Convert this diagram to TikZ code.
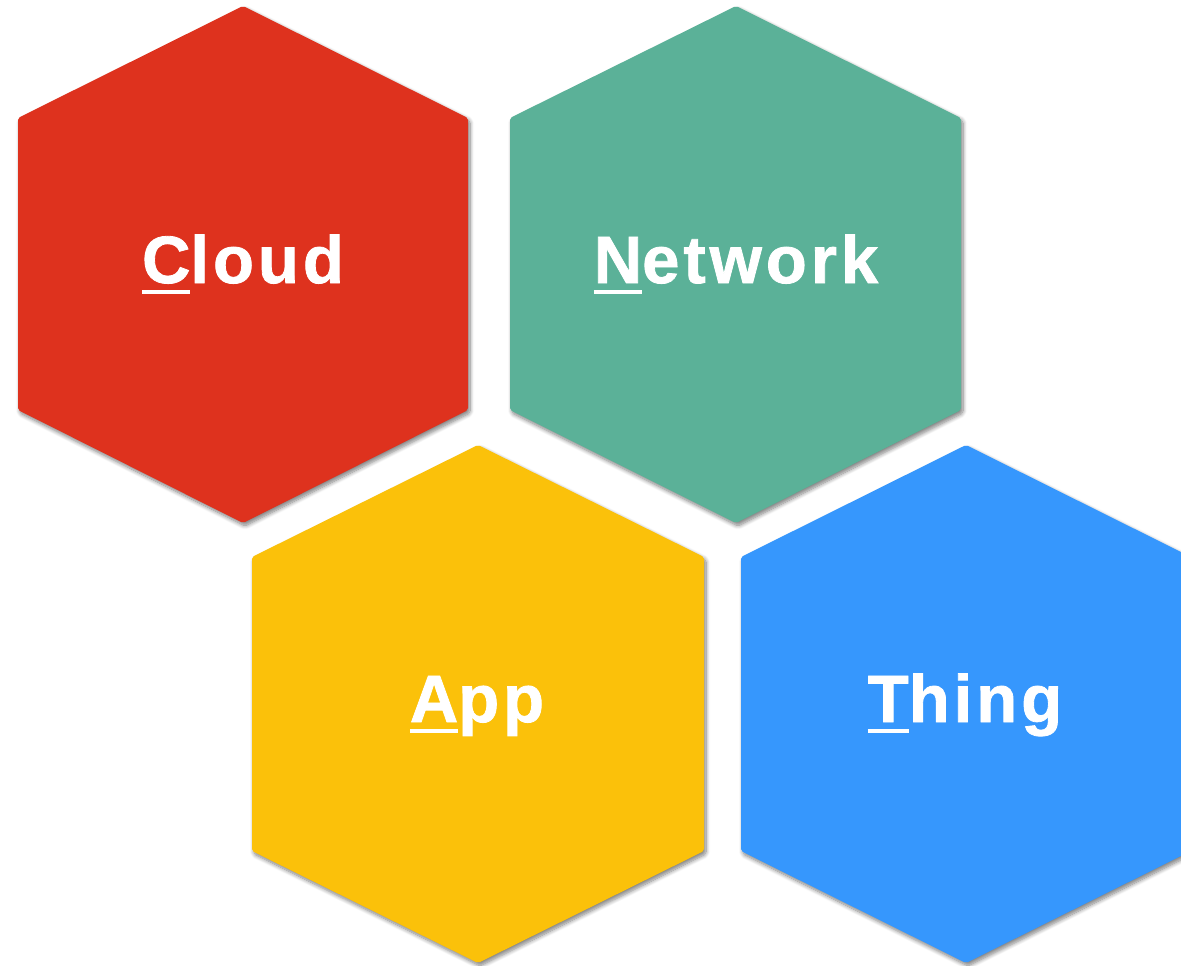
\documentclass[tikz,border=0pt]{standalone}
\usepackage{fontspec}
\newfontfamily\hexfont[LetterSpace=6,FakeBold=1.2]{Liberation Sans}
\usetikzlibrary{shadows.blur}
\definecolor{hexred}{RGB}{222,50,30}
\definecolor{hexgreen}{RGB}{91,177,152}
\definecolor{hexyellow}{RGB}{251,193,10}
\definecolor{hexblue}{RGB}{54,151,253}
\newcommand{\firstul}[1]{\setbox0\hbox{#1}\rlap{\rule[-11pt]{\wd0}{4pt}}\box0}
\tikzset{
  hex/.style={rounded corners=2pt, blur shadow={shadow xshift=2pt, shadow yshift=-3pt, shadow blur steps=8, shadow blur radius=4pt, shadow blur extra rounding=1pt, shadow opacity=50}},
  hexlabel/.style={anchor=base, text=white, font=\hexfont\bfseries\fontsize{67}{80}\selectfont, inner sep=0pt}
}
\begin{document}
\begin{tikzpicture}[x=1pt,y=-1pt]
\useasboundingbox (0,0) rectangle (1181,966);
\begin{scope}
\clip (0,0) rectangle (1181,966);
\fill[hex, hexred]    (243,6) -- (468,118) -- (468,410) -- (243,523) -- (18,410) -- (18,118) -- cycle;
\fill[hex, hexgreen]  (736,6) -- (961,118) -- (961,410) -- (736,523) -- (510,410) -- (510,118) -- cycle;
\fill[hex, hexyellow] (478,445) -- (704,557) -- (704,851) -- (478,963) -- (252,851) -- (252,557) -- cycle;
\fill[hex, hexblue]   (966,445) -- (1191,557) -- (1191,851) -- (966,963) -- (741,851) -- (741,557) -- cycle;
\end{scope}
\node[hexlabel] (cloud)   at (243,283) {\firstul{C}loud};
\node[hexlabel] (network) at (736,283) {\firstul{N}etwork};
\node[hexlabel] (app)     at (477,722) {\firstul{A}pp};
\node[hexlabel] (thing)   at (965,722) {\firstul{T}hing};
\end{tikzpicture}
\end{document}
